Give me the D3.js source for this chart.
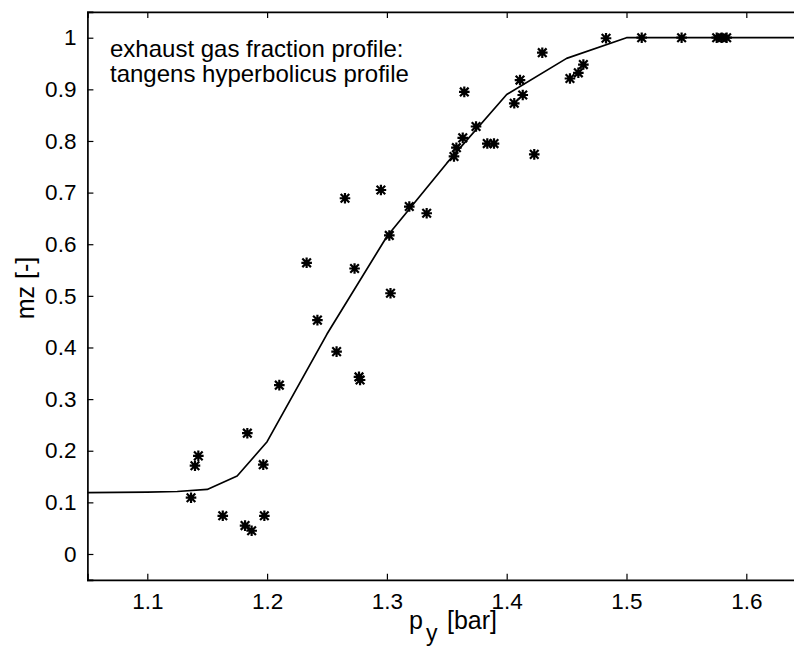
<!DOCTYPE html>
<html>
<head>
<meta charset="utf-8">
<script src="https://cdn.jsdelivr.net/npm/d3@7"></script>
<style>
  html, body { margin: 0; padding: 0; background: #fff; }
  svg { display: block; }
  text { font-family: "Liberation Sans", Arial, Helvetica, sans-serif; fill: #000; }
</style>
</head>
<body>
<svg id="chart" width="794" height="650"></svg>
<script>
// Measured exhaust gas fraction mz versus pressure p_y
const measuredP = [
  1.1365, 1.1398, 1.1426, 1.163, 1.1816, 1.1871, 1.1835, 1.1968, 1.1977, 1.2102,
  1.233, 1.242, 1.258, 1.265, 1.273, 1.2767, 1.2776, 1.295, 1.302, 1.303,
  1.3187, 1.3332, 1.356, 1.358, 1.3633, 1.3646, 1.3744, 1.3838, 1.3894, 1.4063,
  1.4111, 1.4134, 1.423, 1.4297, 1.4528, 1.4598, 1.464, 1.4829, 1.5127, 1.546,
  1.5753, 1.5795, 1.5836
];
const measuredMz = [
  0.109, 0.171, 0.190, 0.074, 0.055, 0.045, 0.234, 0.173, 0.074, 0.327,
  0.564, 0.453, 0.392, 0.689, 0.553, 0.343, 0.337, 0.705, 0.617, 0.505,
  0.673, 0.660, 0.770, 0.787, 0.806, 0.895, 0.828, 0.795, 0.795, 0.873,
  0.918, 0.889, 0.774, 0.971, 0.921, 0.932, 0.948, 0.999, 1.0, 1.0,
  1.0, 1.0, 1.0
];

// Fitted tangens hyperbolicus profile (polyline vertices)
const profileP  = [1.05, 1.10, 1.125, 1.15, 1.175, 1.20, 1.25, 1.30, 1.35, 1.40, 1.45, 1.50, 1.55, 1.60, 1.65];
const profileMz = [0.119, 0.120, 0.121, 0.125, 0.151, 0.2175, 0.426, 0.615, 0.757, 0.890, 0.960, 1.0, 1.0, 1.0, 1.0];

const xTicks = [1.1, 1.2, 1.3, 1.4, 1.5, 1.6];
const yTicks = [0, 0.1, 0.2, 0.3, 0.4, 0.5, 0.6, 0.7, 0.8, 0.9, 1];
const annotation = ["exhaust gas fraction profile:", "tangens hyperbolicus profile"];

const svg = d3.select("#chart");
const plotLeft = 87.4, plotRight = 806.2, plotTop = 11.9, plotBottom = 579.8;

const x = d3.scaleLinear().domain([1.05, 1.65]).range([plotLeft, plotRight]);
const y = d3.scaleLinear().domain([-0.05, 1.05]).range([plotBottom, plotTop]);

const fmt = d3.format("~g");
const tickLen = 6;

// Axes with inward ticks on all sides
const gx = svg.append("g").attr("transform", `translate(0,${plotBottom})`)
  .call(d3.axisBottom(x).tickValues(xTicks).tickFormat(fmt).tickSize(-tickLen).tickPadding(13));
const gxTop = svg.append("g").attr("transform", `translate(0,${plotTop})`)
  .call(d3.axisTop(x).tickValues(xTicks).tickFormat("").tickSize(-tickLen));
const gy = svg.append("g").attr("transform", `translate(${plotLeft},0)`)
  .call(d3.axisLeft(y).tickValues(yTicks).tickFormat(fmt).tickSize(-tickLen).tickPadding(11));
const gyRight = svg.append("g").attr("transform", `translate(${plotRight},0)`)
  .call(d3.axisRight(y).tickValues(yTicks).tickFormat("").tickSize(-tickLen));

[gx, gxTop, gy, gyRight].forEach(g => {
  g.select(".domain").attr("stroke", "#000").attr("stroke-width", 1.7);
  g.selectAll(".tick line").attr("stroke", "#000").attr("stroke-width", 1.2);
  g.selectAll(".tick text").attr("font-size", 22.5)
    .attr("font-family", "'Liberation Sans', Arial, Helvetica, sans-serif").attr("fill", "#000");
});

// Profile curve
const line = d3.line().x((d, i) => x(profileP[i])).y(d => y(d));
svg.append("path")
  .datum(profileMz)
  .attr("d", line)
  .attr("fill", "none")
  .attr("stroke", "#000")
  .attr("stroke-width", 1.7)
  .attr("stroke-linejoin", "round");

// Asterisk markers for the measurements
const r = 5.3, rd = 4.3;
const star = `M${-r},0L${r},0M0,${-r}L0,${r}M${-rd},${-rd}L${rd},${rd}M${-rd},${rd}L${rd},${-rd}`;
svg.append("g").selectAll("path")
  .data(measuredMz)
  .join("path")
  .attr("transform", (d, i) => `translate(${x(measuredP[i])},${y(d)})`)
  .attr("d", star)
  .attr("fill", "none")
  .attr("stroke", "#000")
  .attr("stroke-width", 2.2);

// Annotation
svg.append("g").selectAll("text")
  .data(annotation)
  .join("text")
  .attr("x", 110)
  .attr("y", (d, i) => 57 + i * 25)
  .attr("font-size", 24)
  .text(d => d);

// Axis labels
const xl = svg.append("text")
  .attr("x", 409)
  .attr("y", 629)
  .attr("font-size", 25);
xl.append("tspan").text("p");
xl.append("tspan").attr("dx", 3).attr("dy", 12).attr("font-size", 23).text("y");
xl.append("tspan").attr("x", 447).attr("dy", -12).text("[bar]");

svg.append("text")
  .attr("transform", "translate(34,288) rotate(-90)")
  .attr("text-anchor", "middle")
  .attr("font-size", 25)
  .text("mz [-]");
</script>
</body>
</html>
